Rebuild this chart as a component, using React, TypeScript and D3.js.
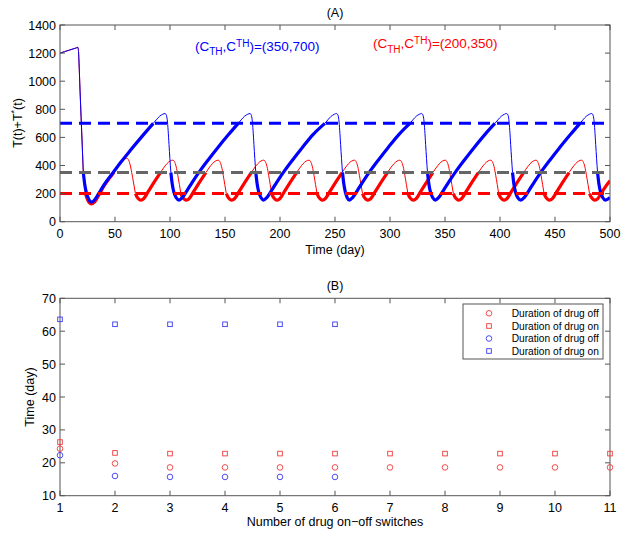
import React from 'react';
import * as d3 from 'd3';

const FONT = '"Liberation Sans", Arial, Helvetica, sans-serif';

// ---------- Panel A data ----------
const topXTicks = [0, 50, 100, 150, 200, 250, 300, 350, 400, 450, 500];
const topYTicks = [0, 200, 400, 600, 800, 1000, 1200, 1400];

// [time (day), T(t)+T*(t)] for (C_TH, C^TH) = (350, 700)
const blueCurve: number[][] = [
  [0, 1200], [4, 1210], [8, 1220], [12, 1230], [14.5, 1236], [16.1, 1241], [16.7, 1225], [17.3, 1130], [18.2, 937], [19.2, 740], [20.2, 545], [21.2, 350],
  [22.5, 265], [24, 205], [26, 162], [28.8, 140], [31.5, 156], [35, 198], [40, 262], [48.5, 352], [56, 430], [64, 508], [74, 602], [84.8, 700],
  [87.5, 725], [90.5, 750], [93.5, 765], [95.5, 770], [96.7, 758], [97.5, 725], [98.3, 650], [99.1, 550], [99.9, 450], [100.8, 350],
  [102, 270], [103.5, 210], [105.5, 172], [108.2, 154], [111.2, 172], [115.2, 218], [120.2, 280], [128.2, 372], [135.2, 445], [143.2, 525], [153.2, 620], [162, 700],
  [164.7, 725], [167.7, 750], [170.7, 765], [172.7, 770], [173.9, 758], [174.7, 725], [175.5, 650], [176.3, 550], [177.1, 450], [178, 350],
  [179.2, 270], [180.7, 210], [182.7, 172], [185, 154], [188, 172], [192, 218], [197, 280], [205, 372], [212, 445], [220, 525], [230, 620], [240.8, 700],
  [243.5, 725], [246.5, 750], [249.5, 765], [251.5, 770], [252.7, 758], [253.5, 725], [254.3, 650], [255.1, 550], [255.9, 450], [256.8, 350],
  [258, 270], [259.4, 210], [261, 172], [263, 154], [266, 172], [270, 218], [275, 280], [283, 372], [290, 445], [298, 525], [308, 620], [318.1, 700],
  [320.8, 725], [323.8, 750], [326.8, 765], [328.8, 770], [330, 758], [330.8, 725], [331.6, 650], [332.4, 550], [333.2, 450], [334.1, 350],
  [335.3, 270], [336.8, 210], [338.8, 172], [341.2, 154], [344.2, 172], [348.2, 218], [353.2, 280], [361.2, 372], [368.2, 445], [376.2, 525], [386.2, 620], [395.4, 700],
  [398.1, 725], [401.1, 750], [404.1, 765], [406.1, 770], [407.3, 758], [408.1, 725], [408.9, 650], [409.7, 550], [410.5, 450], [411.4, 350],
  [412.6, 270], [414.1, 210], [416.1, 172], [419, 154], [422, 172], [426, 218], [431, 280], [439, 372], [446, 445], [454, 525], [464, 620], [472.7, 700],
  [475.4, 725], [478.4, 750], [481.4, 765], [483.4, 770], [484.6, 758], [485.4, 725], [486.2, 650], [487, 550], [487.8, 450], [488.7, 350],
  [489.9, 270], [491.4, 210], [493.4, 172], [495.7, 154], [498, 160], [500, 172],
];
// times at which the drug is switched (off -> on -> off ...)
const blueSwitches = [21.2, 84.8, 100.8, 162, 178, 240.8, 256.8, 318.1, 334.1, 395.4, 411.4, 472.7, 488.7];

// [time (day), T(t)+T*(t)] for (C_TH, C^TH) = (200, 350)
const redCurve: number[][] = [
  [0, 1200], [4, 1210], [8, 1220], [12, 1230], [14.5, 1236], [16.1, 1241], [16.7, 1225], [17.3, 1130], [18.2, 937], [19.2, 740], [20.2, 545], [21.2, 350], [22.2, 260], [23.1, 200],
  [25, 158], [27, 133], [29, 126], [31.5, 140], [35, 185], [40, 255], [44.5, 305], [49, 350],
  [52, 385], [55, 418], [58, 442], [60.6, 451], [62, 444], [63.6, 410], [65.2, 350], [66.9, 275], [68.6, 200],
  [70.1, 175], [71.8, 160], [73.6, 154], [76, 163], [80, 212], [85, 275], [91.3, 350],
  [94.1, 382], [97.1, 412], [100.1, 432], [102.6, 438], [104, 428], [105.6, 392], [107.1, 330], [108.5, 265], [109.9, 200],
  [111.4, 175], [113.1, 160], [114.9, 154], [117.3, 163], [121.3, 212], [126.3, 275], [132.6, 350],
  [135.4, 382], [138.4, 412], [141.4, 432], [143.9, 438], [145.3, 428], [146.9, 392], [148.4, 330], [149.8, 265], [151.2, 200],
  [152.7, 175], [154.4, 160], [156.2, 154], [158.6, 163], [162.6, 212], [167.6, 275], [173.9, 350],
  [176.7, 382], [179.7, 412], [182.7, 432], [185.2, 438], [186.6, 428], [188.2, 392], [189.7, 330], [191.1, 265], [192.4, 200],
  [193.9, 175], [195.6, 160], [197.4, 154], [199.8, 163], [203.8, 212], [208.8, 275], [215.1, 350],
  [217.9, 382], [220.9, 412], [223.9, 432], [226.4, 438], [227.8, 428], [229.4, 392], [230.9, 330], [232.3, 265], [233.7, 200],
  [235.2, 175], [236.9, 160], [238.7, 154], [241.1, 163], [245.1, 212], [250.1, 275], [256.4, 350],
  [259.2, 382], [262.2, 412], [265.2, 432], [267.7, 438], [269.1, 428], [270.7, 392], [272.2, 330], [273.6, 265], [275, 200],
  [276.5, 175], [278.2, 160], [280, 154], [282.4, 163], [286.4, 212], [291.4, 275], [297.7, 350],
  [300.5, 382], [303.5, 412], [306.5, 432], [309, 438], [310.4, 428], [312, 392], [313.5, 330], [314.9, 265], [316.3, 200],
  [317.8, 175], [319.5, 160], [321.3, 154], [323.7, 163], [327.7, 212], [332.7, 275], [339, 350],
  [341.8, 382], [344.8, 412], [347.8, 432], [350.3, 438], [351.7, 428], [353.3, 392], [354.8, 330], [356.2, 265], [357.6, 200],
  [359.1, 175], [360.8, 160], [362.6, 154], [365, 163], [369, 212], [374, 275], [380.3, 350],
  [383.1, 382], [386.1, 412], [389.1, 432], [391.6, 438], [393, 428], [394.6, 392], [396.1, 330], [397.5, 265], [398.8, 200],
  [400.3, 175], [402, 160], [403.8, 154], [406.2, 163], [410.2, 212], [415.2, 275], [421.5, 350],
  [424.3, 382], [427.3, 412], [430.3, 432], [432.8, 438], [434.2, 428], [435.8, 392], [437.3, 330], [438.7, 265], [440.1, 200],
  [441.6, 175], [443.3, 160], [445.1, 154], [447.5, 163], [451.5, 212], [456.5, 275], [462.8, 350],
  [465.6, 382], [468.6, 412], [471.6, 432], [474.1, 438], [475.5, 428], [477.1, 392], [478.6, 330], [480, 265], [481.4, 200],
  [482.9, 175], [484.6, 160], [486.4, 154], [488.8, 163], [492.8, 212], [497.8, 270], [500, 292],
];
const redSwitches = [23.1, 49, 68.6, 91.3, 109.9, 132.6, 151.2, 173.9, 192.4, 215.1, 233.7, 256.4, 275, 297.7, 316.3, 339, 357.6, 380.3, 398.8, 421.5, 440.1, 462.8, 481.4];

const thresholdLines = [
  { value: 700, color: '#0000ff' },
  { value: 350, color: '#666666' },
  { value: 200, color: '#ff0000' },
];

// ---------- Panel B data ----------
const botXTicks = [1, 2, 3, 4, 5, 6, 7, 8, 9, 10, 11];
const botYTicks = [10, 20, 30, 40, 50, 60, 70];
const redSwitchNo = [1, 2, 3, 4, 5, 6, 7, 8, 9, 10, 11];
const redOff = [24.3, 19.8, 18.6, 18.6, 18.6, 18.6, 18.6, 18.6, 18.6, 18.6, 18.6];
const redOn = [26.3, 23.0, 22.8, 22.8, 22.8, 22.8, 22.8, 22.8, 22.8, 22.8, 22.8];
const blueSwitchNo = [1, 2, 3, 4, 5, 6];
const blueOff = [22.3, 16.0, 15.7, 15.7, 15.7, 15.7];
const blueOn = [63.6, 62.1, 62.1, 62.1, 62.1, 62.1];
const legendLabels = ['Duration of drug off', 'Duration of drug on', 'Duration of drug off', 'Duration of drug on'];

function splitSegments(points: number[][], switches: number[]) {
  const segs: { pts: number[][]; thick: boolean }[] = [];
  let cur = [points[0]];
  let thick = false;
  for (let i = 1; i < points.length; i++) {
    const p = points[i];
    cur.push(p);
    if (switches.some((s) => Math.abs(s - p[0]) < 1e-6)) {
      segs.push({ pts: cur, thick });
      cur = [p];
      thick = !thick;
    }
  }
  if (cur.length > 1) segs.push({ pts: cur, thick });
  return segs;
}

const AX = '#555555';

function Frame({ x0, x1, y0, y1, xTicks, yTicks, xs, ys }: any) {
  const tl = 5;
  return (
    <g>
      <rect x={x0} y={y0} width={x1 - x0} height={y1 - y0} fill="none" stroke={AX} strokeWidth={1} />
      {xTicks.map((t: number) => (
        <g key={'x' + t}>
          <line x1={xs(t)} x2={xs(t)} y1={y1} y2={y1 - tl} stroke={AX} />
          <line x1={xs(t)} x2={xs(t)} y1={y0} y2={y0 + tl} stroke={AX} />
        </g>
      ))}
      {yTicks.map((t: number) => (
        <g key={'y' + t}>
          <line x1={x0} x2={x0 + tl} y1={ys(t)} y2={ys(t)} stroke={AX} />
          <line x1={x1} x2={x1 - tl} y1={ys(t)} y2={ys(t)} stroke={AX} />
        </g>
      ))}
      {xTicks.map((t: number) => (
        <text key={'xl' + t} x={xs(t)} y={y1 + 16.5} textAnchor="middle" fontSize={12.5} fill="#000">{t}</text>
      ))}
      {yTicks.map((t: number) => (
        <text key={'yl' + t} x={x0 - 4} y={ys(t) + 4.5} textAnchor="end" fontSize={12.5} fill="#000">{t}</text>
      ))}
    </g>
  );
}

export default function App() {
  const L = 60, R = 610;
  const xA = d3.scaleLinear().domain([0, 500]).range([L, R]);
  const yA = d3.scaleLinear().domain([0, 1400]).range([221.7, 25]);
  const xB = d3.scaleLinear().domain([1, 11]).range([L, R]);
  const yB = d3.scaleLinear().domain([10, 70]).range([495.7, 298.3]);

  const line = d3.line<number[]>().x((d) => xA(d[0])).y((d) => yA(d[1])).curve(d3.curveMonotoneX);

  const redSegs = splitSegments(redCurve, redSwitches);
  const blueSegs = splitSegments(blueCurve, blueSwitches);

  const red = '#ff0000';
  const blue = '#0000ff';
  const mRed = '#f03a3a';
  const mBlue = '#3a3af0';

  const circle = (cx: number, cy: number, c: string, k: string) => (
    <circle key={k} cx={cx} cy={cy} r={2.8} fill="none" stroke={c} strokeWidth={0.9} />
  );
  const square = (cx: number, cy: number, c: string, k: string) => (
    <rect key={k} x={cx - 2.3} y={cy - 2.3} width={4.6} height={4.6} fill="none" stroke={c} strokeWidth={0.9} />
  );

  const legendY = [313.3, 326, 338.5, 351];

  return (
    <svg width={625} height={534} style={{ position: 'absolute', left: 0, top: 0, background: '#fff' }} fontFamily={FONT}>
      <rect x={0} y={0} width={625} height={534} fill="#fff" />
      <defs>
        <clipPath id="clipA">
          <rect x={L} y={25} width={R - L} height={221.7 - 25} />
        </clipPath>
      </defs>

      {/* Panel A */}
      <text x={335} y={16.5} textAnchor="middle" fontSize={12.5}>(A)</text>
      <g clipPath="url(#clipA)">
        {redSegs.map((s, i) => (
          <path key={'r' + i} d={line(s.pts) || ''} fill="none" stroke={red} strokeWidth={s.thick ? 3.2 : 1} strokeLinejoin="round" />
        ))}
        {blueSegs.map((s, i) => (
          <path key={'b' + i} d={line(s.pts) || ''} fill="none" stroke={blue} strokeWidth={s.thick ? 3.2 : 1} strokeLinejoin="round" />
        ))}
        {thresholdLines.map((t) => (
          <line key={t.value} x1={L} x2={R} y1={yA(t.value)} y2={yA(t.value)} stroke={t.color} strokeWidth={3} strokeDasharray="12 7" />
        ))}
      </g>
      <Frame x0={L} x1={R} y0={25} y1={221.7} xTicks={topXTicks} yTicks={topYTicks} xs={xA} ys={yA} />
      <text x={335} y={254} textAnchor="middle" fontSize={12.5}>Time (day)</text>
      <text transform="translate(22,123) rotate(-90)" textAnchor="middle" fontSize={12.5}>
        T(t)+T<tspan dy={-5} fontSize={9}>*</tspan><tspan dy={5}>(t)</tspan>
      </text>
      <text x={195} y={50.7} fontSize={13.5} fill={blue}>
        (C<tspan dy={4.3} fontSize={10}>TH</tspan><tspan dy={-4.3}>,C</tspan><tspan dy={-4} fontSize={10}>TH</tspan><tspan dy={4}>)=(350,700)</tspan>
      </text>
      <text x={373} y={48.3} fontSize={13.5} fill={red}>
        (C<tspan dy={4.3} fontSize={10}>TH</tspan><tspan dy={-4.3}>,C</tspan><tspan dy={-4} fontSize={10}>TH</tspan><tspan dy={4}>)=(200,350)</tspan>
      </text>

      {/* Panel B */}
      <text x={335} y={289.5} textAnchor="middle" fontSize={12.5}>(B)</text>
      <Frame x0={L} x1={R} y0={298.3} y1={495.7} xTicks={botXTicks} yTicks={botYTicks} xs={xB} ys={yB} />
      {redSwitchNo.map((n, i) => circle(xB(n), yB(redOff[i]), mRed, 'ro' + i))}
      {redSwitchNo.map((n, i) => square(xB(n), yB(redOn[i]), mRed, 'rs' + i))}
      {blueSwitchNo.map((n, i) => circle(xB(n), yB(blueOff[i]), mBlue, 'bo' + i))}
      {blueSwitchNo.map((n, i) => square(xB(n), yB(blueOn[i]), mBlue, 'bs' + i))}
      <text x={335} y={526} textAnchor="middle" fontSize={12.5}>Number of drug on−off switches</text>
      <text transform="translate(34,397) rotate(-90)" textAnchor="middle" fontSize={12.5}>Time (day)</text>

      {/* Legend */}
      <rect x={463} y={304} width={140} height={55} fill="#fff" stroke={AX} strokeWidth={1} />
      {legendLabels.map((lab, i) => {
        const c = i < 2 ? mRed : mBlue;
        const mk = i % 2 === 0 ? circle(489, legendY[i], c, 'lm' + i) : square(489, legendY[i], c, 'lm' + i);
        return (
          <g key={'lg' + i}>
            {mk}
            <text x={511.7} y={legendY[i] + 3.6} fontSize={10.2}>{lab}</text>
          </g>
        );
      })}
    </svg>
  );
}
